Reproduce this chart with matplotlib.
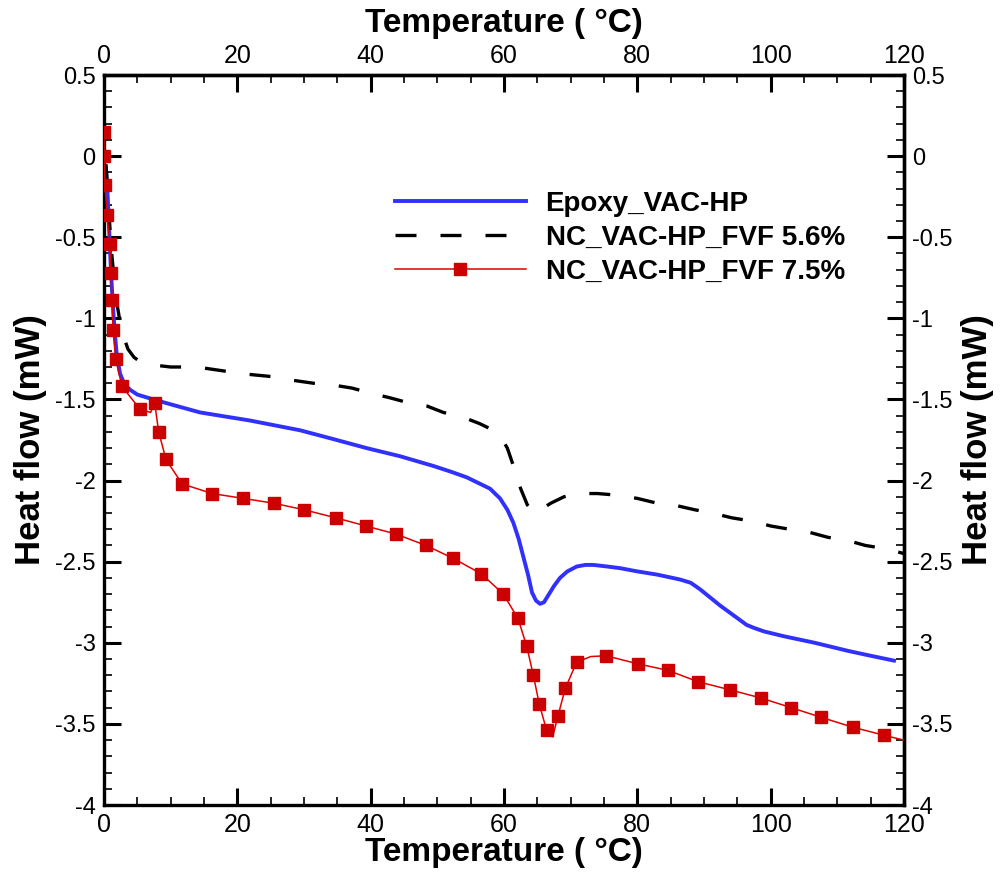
import matplotlib
matplotlib.use("Agg")
import matplotlib.pyplot as plt
from matplotlib.ticker import MultipleLocator, FuncFormatter
from matplotlib.font_manager import FontProperties

# ---------------- data ----------------
epoxy_T = [0.3, 0.5, 0.7, 0.9, 1.1, 1.35, 1.6, 1.9, 2.4, 3.0, 3.9, 5.0, 7.4, 10, 14.4,
           21.9, 29.4, 34, 39.4, 44.4, 49.4, 52, 54.4, 56.4, 57.9, 59.4, 60.5, 61.4,
           62.2, 62.9, 63.6, 64.2, 64.8, 65.4, 66.0, 66.6, 67.5, 68.4, 69.5, 70.9,
           72.2, 73.4, 75.5, 77.4, 80, 83, 86.4, 88, 89.4, 90.9, 92.4, 94.4, 96.4,
           97.6, 99, 102, 106.6, 111.6, 115, 118.5]
epoxy_HF = [-0.08, -0.2, -0.38, -0.58, -0.75, -0.93, -1.08, -1.22, -1.34, -1.40, -1.44,
            -1.47, -1.50, -1.53, -1.58, -1.63, -1.69, -1.74, -1.80, -1.85, -1.91, -1.945,
            -1.98, -2.02, -2.05, -2.11, -2.18, -2.26, -2.36, -2.47, -2.58, -2.69, -2.74,
            -2.76, -2.75, -2.71, -2.65, -2.60, -2.56, -2.53, -2.52, -2.52, -2.53, -2.54,
            -2.56, -2.58, -2.61, -2.63, -2.67, -2.72, -2.77, -2.83, -2.89, -2.91, -2.93,
            -2.96, -3.00, -3.05, -3.08, -3.11]

nc56_T = [0.3, 0.6, 0.9, 1.2, 1.5, 1.9, 2.4, 3.0, 3.6, 4.5, 5.5, 6.5, 7.9, 10, 13.9,
          18.9, 21.6, 25.4, 28, 31.4, 34.2, 37.2, 39.9, 42.9, 45.6, 48.4, 50.9, 53.9,
          56.4, 58.4, 59.5, 60.5, 61.5, 62.5, 63.5, 64.5, 65.5, 67, 69, 71, 74, 77, 80,
          83, 85.4, 88.6, 91.2, 94.2, 97.2, 100, 102.8, 105.9, 108.6, 111.6, 114.2,
          117.2, 120]
nc56_HF = [-0.05, -0.25, -0.45, -0.62, -0.75, -0.90, -1.02, -1.12, -1.19, -1.24, -1.27,
           -1.28, -1.29, -1.30, -1.30, -1.33, -1.345, -1.36, -1.38, -1.40, -1.41, -1.43,
           -1.46, -1.49, -1.52, -1.54, -1.58, -1.61, -1.65, -1.69, -1.73, -1.80, -1.92,
           -2.05, -2.15, -2.20, -2.18, -2.14, -2.10, -2.08, -2.08, -2.09, -2.11, -2.14,
           -2.15, -2.18, -2.20, -2.23, -2.25, -2.28, -2.30, -2.32, -2.35, -2.37, -2.40,
           -2.42, -2.45]

nc75_T = [0.0, 0.02, 0.15, 0.45, 0.9, 1.05, 1.2, 1.35, 1.75, 2.7, 5.4, 7.0, 7.6, 8.2,
          9.3, 11.7, 16.2, 20.9, 25.5, 30, 34.8, 39.3, 43.8, 48.3, 52.4, 56.6, 59.9,
          62.1, 63.4, 64.4, 65.3, 66.4, 67.3, 68.1, 69.2, 70.9, 73.0, 75.3, 80.1, 84.6,
          89.1, 93.9, 98.5, 103.1, 107.6, 112.3, 117, 120]
nc75_HF = [0.15, 0.0, -0.18, -0.36, -0.54, -0.72, -0.89, -1.07, -1.25, -1.42, -1.56,
           -1.58, -1.52, -1.70, -1.87, -2.02, -2.08, -2.11, -2.14, -2.18, -2.23, -2.28,
           -2.33, -2.40, -2.48, -2.575, -2.70, -2.85, -3.02, -3.20, -3.38, -3.54, -3.58,
           -3.45, -3.28, -3.12, -3.085, -3.08, -3.13, -3.17, -3.24, -3.29, -3.34, -3.40,
           -3.46, -3.52, -3.57, -3.60]
# indices of nc75 points carrying a square marker
nc75_markers = [0, 1, 2, 3, 4, 5, 6, 7, 8, 9, 10, 12, 13, 14, 15, 16, 17, 18, 19, 20,
                21, 22, 23, 24, 25, 26, 27, 28, 29, 30, 31, 33, 34, 35, 37, 38, 39, 40,
                41, 42, 43, 44, 45, 46]

labels = ["Epoxy_VAC-HP", "NC_VAC-HP_FVF 5.6%", "NC_VAC-HP_FVF 7.5%"]
x_label = "Temperature ( °C)"
y_label = "Heat flow (mW)"

# ---------------- figure ----------------
plt.rcParams['font.family'] = ['Liberation Sans', 'DejaVu Sans']
fig = plt.figure(figsize=(10.01, 8.75), dpi=100)
ax = fig.add_axes([104 / 1001, 1 - 805 / 875, 800 / 1001, 730 / 875])

ax.plot(epoxy_T, epoxy_HF, color='#3030ff', lw=2.8, label=labels[0], zorder=3)
ax.plot(nc56_T, nc56_HF, color='black', lw=2.4, dashes=(6.3, 7.2), label=labels[1], zorder=3)
ax.plot(nc75_T, nc75_HF, color='#e00000', lw=1.1, marker='s', markersize=8.5,
        markerfacecolor='#cc0000', markeredgecolor='#cc0000',
        markevery=nc75_markers, label=labels[2], zorder=4)

ax.set_xlim(0, 120)
ax.set_ylim(-4, 0.5)

for s in ax.spines.values():
    s.set_linewidth(2.4)

xtick_fp = FontProperties(family=['Liberation Sans'], size=18)
ytick_fp = FontProperties(family=['Liberation Sans'], size=17)
xlab_font = dict(family=['Liberation Sans'], size=24, weight='bold')
ylab_font = dict(family=['Liberation Sans'], size=25, weight='bold')
fmt = FuncFormatter(lambda v, p: f"{v:g}")

ax.xaxis.set_major_locator(MultipleLocator(20))
ax.xaxis.set_minor_locator(MultipleLocator(5))
ax.yaxis.set_major_locator(MultipleLocator(0.5))
ax.yaxis.set_minor_locator(MultipleLocator(0.1))
ax.yaxis.set_major_formatter(fmt)
ax.tick_params(which='major', direction='in', length=12, width=2.2, pad=6)
ax.tick_params(which='minor', direction='in', length=6, width=1.2)
ax.tick_params(top=False, right=False)
for t in ax.get_xticklabels():
    t.set_fontproperties(xtick_fp)
for t in ax.get_yticklabels():
    t.set_fontproperties(ytick_fp)
ax.set_xlabel(x_label, labelpad=0, **xlab_font)
ax.set_ylabel(y_label, labelpad=6, **ylab_font)

# top axis
secx = ax.secondary_xaxis('top')
secx.xaxis.set_major_locator(MultipleLocator(20))
secx.xaxis.set_minor_locator(MultipleLocator(5))
secx.tick_params(which='major', direction='in', length=12, width=2.2, pad=5)
secx.tick_params(which='minor', direction='in', length=6, width=1.2)
secx.spines['top'].set_linewidth(2.4)
for t in secx.get_xticklabels():
    t.set_fontproperties(xtick_fp)
secx.set_xlabel(x_label, labelpad=9, **xlab_font)

# right axis
secy = ax.secondary_yaxis('right')
secy.yaxis.set_major_locator(MultipleLocator(0.5))
secy.yaxis.set_minor_locator(MultipleLocator(0.1))
secy.yaxis.set_major_formatter(fmt)
secy.tick_params(which='major', direction='in', length=12, width=2.2, pad=6)
secy.tick_params(which='minor', direction='in', length=6, width=1.2)
secy.spines['right'].set_linewidth(2.4)
for t in secy.get_yticklabels():
    t.set_fontproperties(ytick_fp)
secy.set_ylabel(y_label, labelpad=6, **ylab_font)

leg = ax.legend(loc='upper left', bbox_to_anchor=(395 / 1001, 1 - 191 / 875),
                bbox_transform=fig.transFigure, frameon=False, handlelength=4.7,
                handletextpad=0.72, labelspacing=0.28, borderpad=0, borderaxespad=0,
                prop=dict(family='Liberation Sans', size=20, weight='bold'))

fig.savefig("out.png", dpi=100)
